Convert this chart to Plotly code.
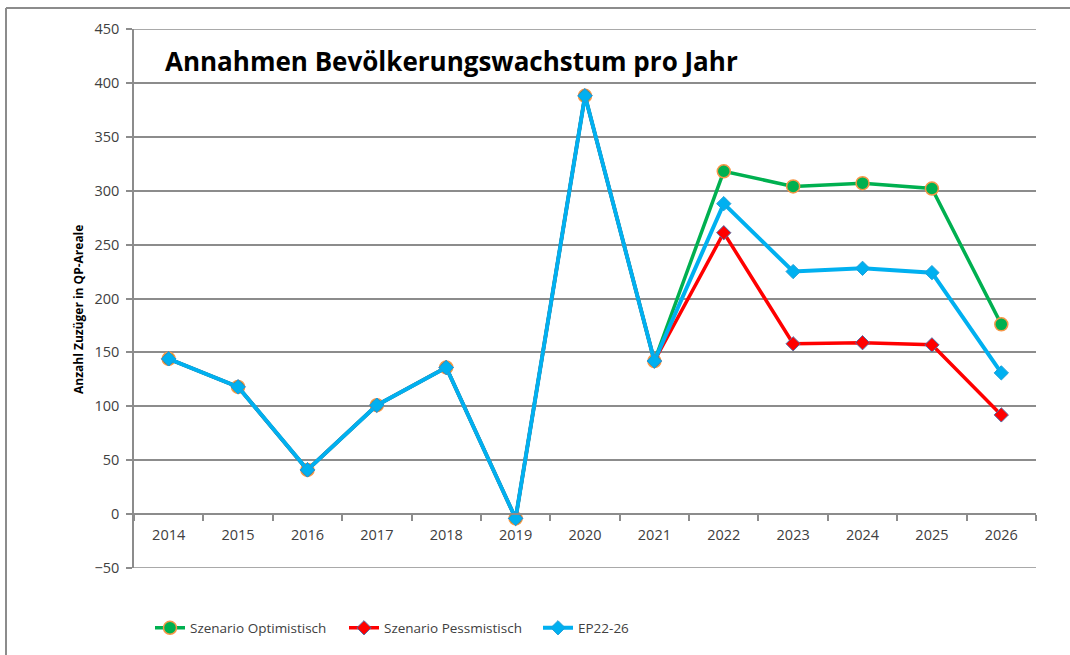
import plotly.graph_objects as go

years = ["2014", "2015", "2016", "2017", "2018", "2019", "2020",
         "2021", "2022", "2023", "2024", "2025", "2026"]
optimistisch = [144, 118, 41, 101, 136, -4, 388, 142, 318, 304, 307, 302, 176]
pessimistisch = [144, 118, 41, 101, 136, -4, 388, 142, 261, 158, 159, 157, 92]
ep22_26 = [144, 118, 41, 101, 136, -4, 388, 142, 288, 225, 228, 224, 131]
y_min, y_max = -50, 450

W, H = 1070, 655
L, R, T, B = 134, 1036, 29, 568
pw, ph = R - L, B - T

def px(x):
    return (x - L) / pw

def py(y):
    return (B - y) / ph

GRID = "#8c8c8c"
FONT = "Open Sans"

fig = go.Figure()
fig.add_trace(go.Scatter(
    x=years, y=optimistisch, name="Szenario Optimistisch", mode="lines+markers",
    line=dict(color="#00B050", width=3.5),
    marker=dict(symbol="circle", size=13, color="#00B050",
                line=dict(color="#F79646", width=1.5))))
fig.add_trace(go.Scatter(
    x=years, y=pessimistisch, name="Szenario Pessmistisch", mode="lines+markers",
    line=dict(color="#FF0000", width=3.5),
    marker=dict(symbol="diamond", size=11, color="#FF0000",
                line=dict(color="#4F6EA8", width=1))))
fig.add_trace(go.Scatter(
    x=years, y=ep22_26, name="EP22-26", mode="lines+markers",
    line=dict(color="#00B0F0", width=4),
    marker=dict(symbol="diamond", size=11, color="#00B0F0",
                line=dict(color="#1F9FD8", width=1))))

fig.update_layout(
    width=W, height=H,
    margin=dict(l=L, r=W - R, t=T, b=H - B),
    paper_bgcolor="white", plot_bgcolor="white",
    font=dict(family=FONT, color="#404040", size=14),
    showlegend=True,
    legend=dict(orientation="h", x=px(150), y=py(628), yanchor="middle",
                xanchor="left", font=dict(size=13.5, color="#404040"),
                entrywidth=149, bgcolor="rgba(0,0,0,0)"),
    xaxis=dict(type="category", range=[-0.5, len(years) - 0.5],
               anchor="free", position=py(514),
               showline=True, linecolor=GRID, linewidth=1.5,
               ticks="outside", tickson="boundaries", ticklen=6,
               tickcolor=GRID, tickwidth=1.5, showgrid=False,
               tickfont=dict(size=14.5, color="#404040"),
               ticklabelstandoff=8, zeroline=False),
    yaxis=dict(range=[y_min, y_max], dtick=50, tick0=0,
               showline=True, linecolor=GRID, linewidth=1.5,
               ticks="outside", ticklen=6, tickcolor=GRID, tickwidth=1.5,
               showgrid=True, gridcolor=GRID, gridwidth=1.5,
               zeroline=False, tickfont=dict(size=14.5, color="#404040"),
               ticklabelstandoff=4),
)

# edge gridlines (plotly skips gridlines at the range ends)
for yv in (y_min, y_max):
    fig.add_shape(type="line", xref="paper", yref="y", x0=0, x1=1,
                  y0=yv, y1=yv, layer="below",
                  line=dict(color=GRID, width=1.5))

fig.add_annotation(text="<b>Anzahl Zuzüger in QP-Areale</b>",
                   xref="paper", yref="paper", x=px(78), y=py(310),
                   xanchor="center", yanchor="middle", showarrow=False,
                   textangle=-90,
                   font=dict(size=12, color="#000000", family=FONT))

fig.add_annotation(text="<b>Annahmen Bevölkerungswachstum pro Jahr</b>",
                   xref="paper", yref="paper", x=px(163), y=py(61),
                   xanchor="left", yanchor="middle", showarrow=False,
                   font=dict(size=26, color="#000000", family=FONT))

# outer chart border (top and left edges visible)
bx0, by0 = px(6), py(8)
fig.add_shape(type="line", xref="paper", yref="paper",
              x0=bx0, x1=px(1075), y0=by0, y1=by0,
              line=dict(color="#8c8c8c", width=2))
fig.add_shape(type="line", xref="paper", yref="paper",
              x0=bx0, x1=bx0, y0=by0, y1=py(660),
              line=dict(color="#8c8c8c", width=2))

fig.write_html("out.html", config={"displayModeBar": False},
               post_script="document.body.style.margin='0';")
